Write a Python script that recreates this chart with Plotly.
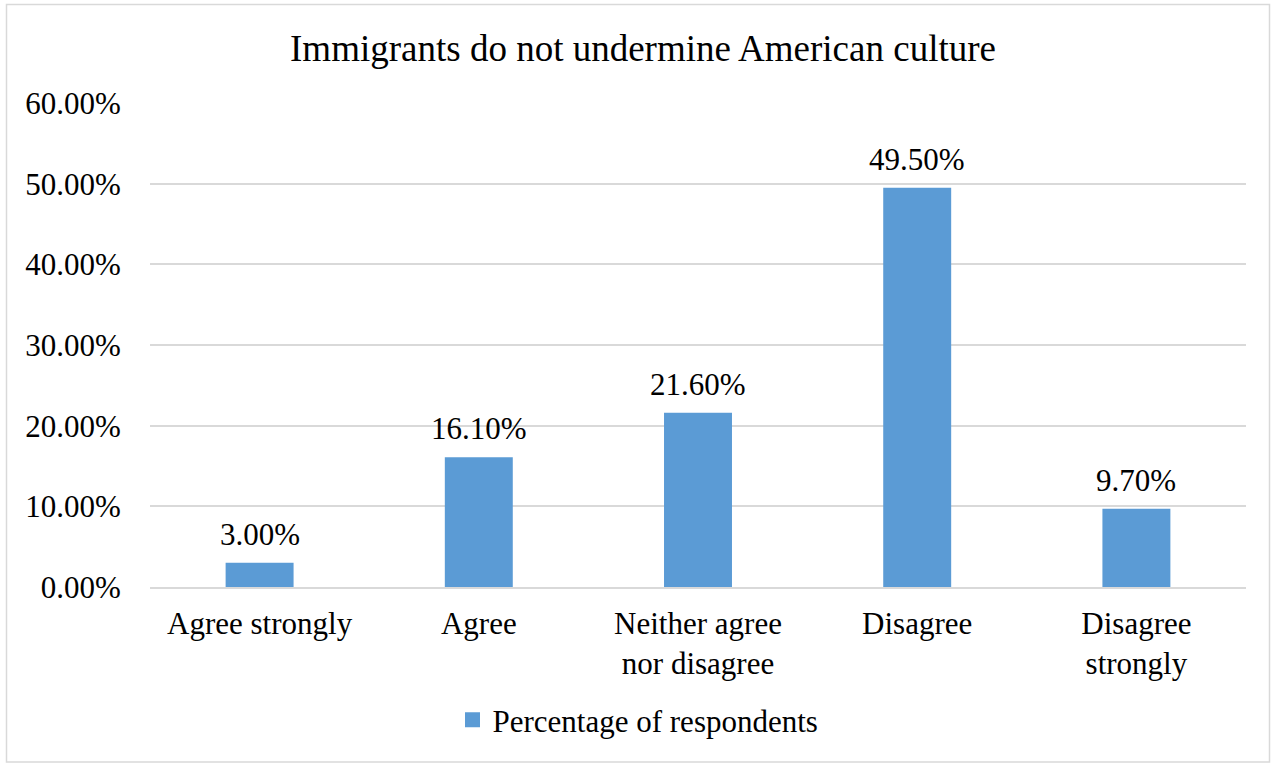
import plotly.graph_objects as go

categories = ["Agree strongly", "Agree", "Neither agree<br>nor disagree", "Disagree", "Disagree<br>strongly"]
values = [3.00, 16.10, 21.60, 49.50, 9.70]
series_name = "Percentage of respondents"
title_text = "Immigrants do not undermine American culture"
tick_vals = [0, 10, 20, 30, 40, 50, 60]
tick_text = [f"{v:.2f}%" for v in tick_vals]
label_text = [f"{v:.2f}%" for v in values]

W, H = 1276, 765
ml, mr, mt, mb = 150, 30, 103, 178
pw, ph = W - ml - mr, H - mt - mb

def px2x(px):
    return (px - ml) / pw

def px2y(py):
    return (H - mb - py) / ph

FONT = "Liberation Serif, Times New Roman, serif"
BLUE = "#5b9bd5"

fig = go.Figure()
fig.add_trace(go.Bar(
    x=categories, y=values, name=series_name,
    marker=dict(color=BLUE, line=dict(width=0)),
    showlegend=False,
))
# legend-only proxy with a larger square marker
fig.add_trace(go.Scatter(
    x=[None], y=[None], mode="markers", name=series_name,
    marker=dict(symbol="square", size=15, color=BLUE),
    showlegend=True,
))

for c, v, t in zip(categories, values, label_text):
    fig.add_annotation(x=c, y=v, text=t, showarrow=False, yanchor="bottom",
                       yshift=9, font=dict(family=FONT, size=31, color="black"))

fig.update_layout(
    width=W, height=H,
    margin=dict(l=ml, r=mr, t=mt, b=mb, autoexpand=False),
    paper_bgcolor="white", plot_bgcolor="white",
    font=dict(family=FONT, size=31, color="black"),
    title=dict(text=title_text, x=643 / W, xanchor="center", xref="container",
               y=1 - 48 / H, yanchor="middle",
               font=dict(family=FONT, size=37, color="black")),
    bargap=0.69,
    legend=dict(orientation="h", x=px2x(638), xanchor="center",
                y=px2y(720), yanchor="middle", itemwidth=30,
                font=dict(family=FONT, size=31, color="black")),
    shapes=[dict(type="rect", xref="paper", yref="paper",
                 x0=px2x(6.5), x1=px2x(1269.5), y0=px2y(762), y1=px2y(4.5),
                 line=dict(color="#d9d9d9", width=1.5), fillcolor="rgba(0,0,0,0)", layer="below")],
)

fig.update_yaxes(range=[0, 60], tickvals=tick_vals, ticktext=tick_text,
                 showgrid=True, gridcolor="#d9d9d9", gridwidth=1.5,
                 zeroline=False, showline=False, ticks="outside", ticklen=22,
                 tickcolor="rgba(0,0,0,0)",
                 tickfont=dict(family=FONT, size=31, color="black"))
fig.update_xaxes(showline=True, linecolor="#d9d9d9", linewidth=1.5,
                 ticks="outside", ticklen=8, tickcolor="rgba(0,0,0,0)", tickangle=0,
                 tickfont=dict(family=FONT, size=31, color="black"))

fig.write_html("out.html", config={"displayModeBar": False},
               post_script="document.body.style.margin='0';document.body.style.overflow='hidden';")
